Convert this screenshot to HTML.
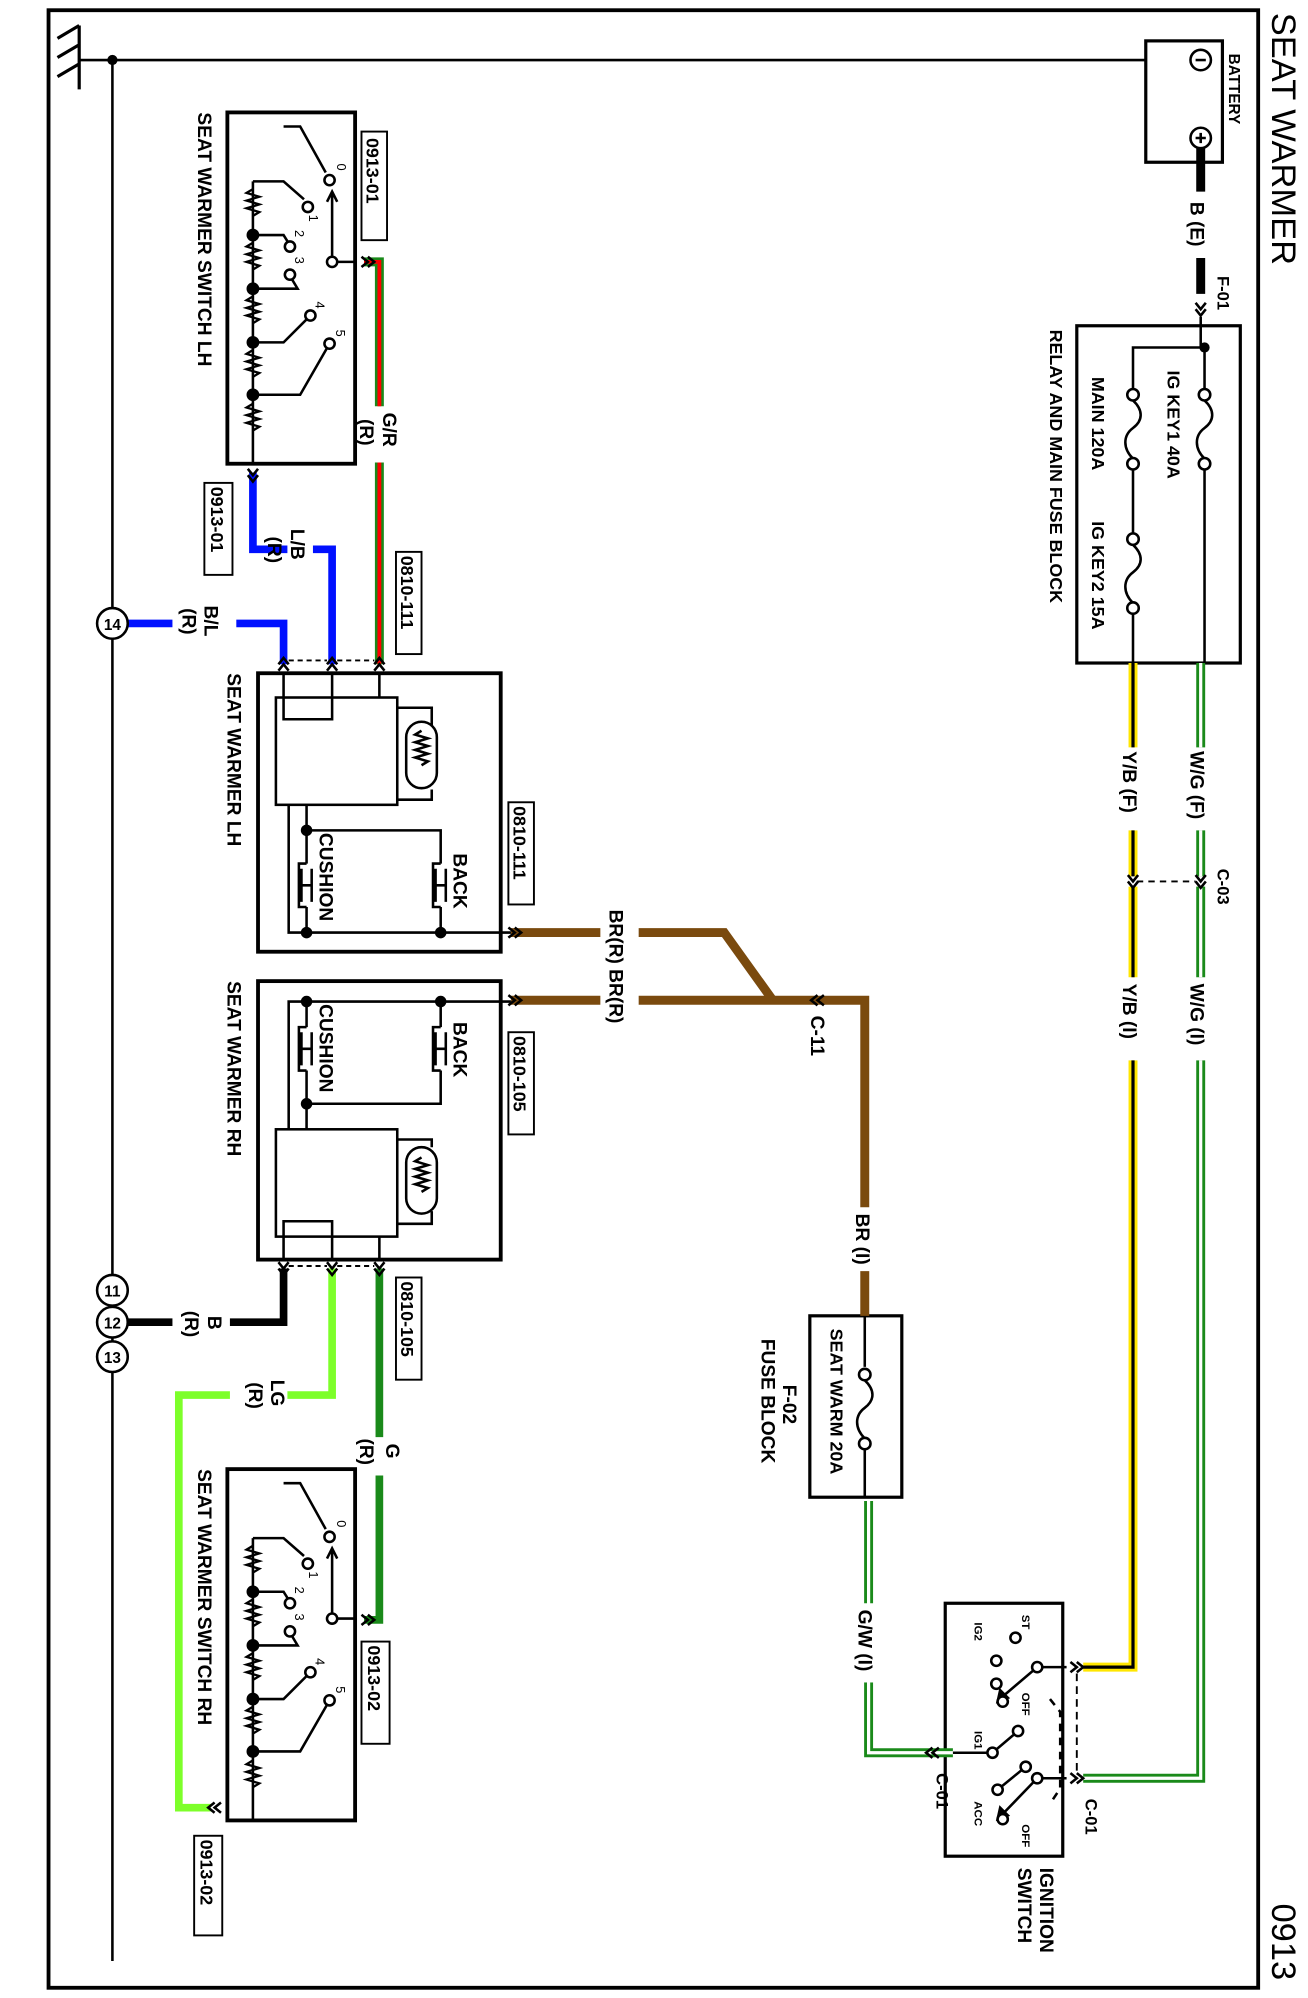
<!DOCTYPE html>
<html><head><meta charset="utf-8"><style>
html,body{margin:0;padding:0;background:#fff}
svg{display:block}
text{font-family:"Liberation Sans",sans-serif;font-weight:bold;fill:#000}
</style></head><body>
<svg width="1308" height="1998" viewBox="0 0 1024 1564" preserveAspectRatio="none" xmlns="http://www.w3.org/2000/svg">
<defs>
<g id="fuse"><circle cx="0" cy="0" r="4.5" fill="#fff" stroke="#000" stroke-width="2"/><path d="M0 4.5 C8 12 8 20 0 26 C-8 32 -8 42 0 50" fill="none" stroke="#000" stroke-width="2"/><circle cx="0" cy="54" r="4.5" fill="#fff" stroke="#000" stroke-width="2"/></g>
<g id="sw">
<g fill="none" stroke="#000" stroke-width="2">
<rect x="0" y="0" width="100" height="275" stroke-width="3"/>
<path d="M20 54 V275"/>
<path d="M44 11 H57 L77 47"/>
<path d="M20 54 H44 L60 68"/>
<path d="M82 117 V63 M78 70 L82 62 L86 70"/>
<path d="M82 117 H100"/>
<path d="M20 96 H44 L49 104"/>
<path d="M20 138 H55 L49 128"/>
<path d="M20 180 H44 L65 159"/>
<path d="M20 221 H57 L80 181"/>
<path d="M20 60 l-5 3 l10 3 l-10 3 l10 3 l-10 3 l10 3 l-5 3 M20 102 l-5 3 l10 3 l-10 3 l10 3 l-10 3 l10 3 l-5 3 M20 144 l-5 3 l10 3 l-10 3 l10 3 l-10 3 l10 3 l-5 3 M20 186 l-5 3 l10 3 l-10 3 l10 3 l-10 3 l10 3 l-5 3 M20 228 l-5 3 l10 3 l-10 3 l10 3 l-10 3 l10 3 l-5 3" stroke-width="1.8"/>
<circle cx="80" cy="53" r="4" fill="#fff"/><circle cx="63" cy="74" r="4" fill="#fff"/><circle cx="82" cy="117" r="4" fill="#fff"/>
<circle cx="49" cy="105" r="4" fill="#fff"/><circle cx="49" cy="127" r="4" fill="#fff"/><circle cx="65" cy="159" r="4" fill="#fff"/><circle cx="80" cy="181" r="4" fill="#fff"/>
<circle cx="20" cy="96" r="4" fill="#000"/><circle cx="20" cy="138" r="4" fill="#000"/><circle cx="20" cy="180" r="4" fill="#000"/><circle cx="20" cy="221" r="4" fill="#000"/>
</g>
<text transform="translate(86,40) rotate(90)" font-size="10" style="font-weight:normal">0</text>
<text transform="translate(64,80) rotate(90)" font-size="10" style="font-weight:normal">1</text>
<text transform="translate(53,92) rotate(90)" font-size="10" style="font-weight:normal">2</text>
<text transform="translate(53,113) rotate(90)" font-size="10" style="font-weight:normal">3</text>
<text transform="translate(69,148) rotate(90)" font-size="10" style="font-weight:normal">4</text>
<text transform="translate(85,170) rotate(90)" font-size="10" style="font-weight:normal">5</text>
</g>
<g id="chev" fill="none" stroke="#000" stroke-width="2"><path d="M-5 -4 L0 0 L-5 4 M0 -4 L5 0 L0 4"/></g>
<g id="chevv" fill="none" stroke="#000" stroke-width="2"><path d="M-4 -5 L0 0 L4 -5 M-4 0 L0 5 L4 0"/></g>
</defs>

<!-- frame -->
<rect x="38" y="8" width="947" height="1548" fill="none" stroke="#000" stroke-width="3"/>
<text transform="translate(996,10) rotate(90)" font-size="27" style="font-weight:normal">SEAT WARMER</text>
<text transform="translate(996,1490) rotate(90)" font-size="27" style="font-weight:normal">0913</text>

<!-- ground -->
<g stroke="#000" stroke-width="2.5" fill="none">
<path d="M62 20 V70 M45 30 L62 20 M45 45 L62 35 M45 60 L62 50"/>
</g>
<path d="M88 47 V1535 M62 47 H930" stroke="#000" stroke-width="2" fill="none"/>
<circle cx="88" cy="47" r="4" fill="#000"/>

<!-- battery -->
<rect x="897" y="32" width="60" height="95" fill="#fff" stroke="#000" stroke-width="2.5"/>
<circle cx="940" cy="47" r="8" fill="#fff" stroke="#000" stroke-width="2"/><path d="M936 47 H944" stroke="#000" stroke-width="2"/>
<circle cx="940" cy="108" r="8" fill="#fff" stroke="#000" stroke-width="2"/><path d="M936 108 H944 M940 104 V112" stroke="#000" stroke-width="2"/>
<text transform="translate(962,42) rotate(90)" font-size="12">BATTERY</text>
<path d="M940 116 V150 M940 202 V230" stroke="#000" stroke-width="7"/>
<text transform="translate(932,158) rotate(90)" font-size="15">B (E)</text>
<use href="#chevv" x="940" y="242"/>
<text transform="translate(953,216) rotate(90)" font-size="13">F-01</text>
<path d="M940 248 V272" stroke="#000" stroke-width="2"/>

<!-- relay block -->
<rect x="843" y="255" width="128" height="264" fill="none" stroke="#000" stroke-width="2.5"/>
<circle cx="943" cy="272" r="4" fill="#000"/>
<path d="M943 272 V305 M943 365 V519 M943 272 H887 V305 M887 365 V418 M887 478 V519" stroke="#000" stroke-width="2" fill="none"/>
<use href="#fuse" x="943" y="309"/>
<use href="#fuse" x="887" y="309"/>
<use href="#fuse" x="887" y="422"/>
<text transform="translate(914,290) rotate(90)" font-size="14">IG KEY1  40A</text>
<text transform="translate(855,295) rotate(90)" font-size="14">MAIN 120A</text>
<text transform="translate(855,408) rotate(90)" font-size="14">IG KEY2  15A</text>
<text transform="translate(822,258) rotate(90)" font-size="14">RELAY AND MAIN FUSE BLOCK</text>

<!-- W/G wire -->
<path d="M940 519 V585 M940 650 V686 M940 694 V765 M940 830 V1392 H848" stroke="#1a8a1a" stroke-width="7" fill="none"/>
<path d="M940 519 V585 M940 650 V686 M940 694 V765 M940 830 V1392 H848" stroke="#fff" stroke-width="2.5" fill="none"/>
<text transform="translate(932,588) rotate(90)" font-size="15">W/G (F)</text>
<text transform="translate(932,770) rotate(90)" font-size="15">W/G (I)</text>
<!-- Y/B wire -->
<path d="M887 519 V585 M887 650 V686 M887 694 V765 M887 830 V1305 H848" stroke="#ffe600" stroke-width="7" fill="none"/>
<path d="M887 519 V585 M887 650 V686 M887 694 V765 M887 830 V1305 H848" stroke="#000" stroke-width="2.5" fill="none"/>
<text transform="translate(879,588) rotate(90)" font-size="15">Y/B (F)</text>
<text transform="translate(879,770) rotate(90)" font-size="15">Y/B (I)</text>
<use href="#chevv" x="940" y="690"/><use href="#chevv" x="887" y="690"/>
<path d="M890 690 H936" stroke="#000" stroke-width="1.5" stroke-dasharray="5,4"/>
<text transform="translate(953,680) rotate(90)" font-size="13">C-03</text>

<!-- ignition switch -->
<rect x="740" y="1255" width="92" height="198" fill="none" stroke="#000" stroke-width="2.5"/>
<use href="#chev" x="843" y="1305"/><use href="#chev" x="843" y="1392"/>
<path d="M843 1310 V1388" stroke="#000" stroke-width="1.5" stroke-dasharray="6,4"/>
<text transform="translate(850,1408) rotate(90)" font-size="13">C-01</text>
<g stroke="#000" stroke-width="2" fill="none">
<path d="M835 1305 H812 L785 1328"/><path d="M781 1332 l2 -9 l6 6 z" fill="#000"/>
<path d="M835 1392 H812 L785 1420"/><path d="M781 1424 l2 -9 l6 6 z" fill="#000"/>
<path d="M740 1372 H777 L797 1355"/><path d="M781 1401 L803 1383"/>
<path d="M822 1330 L830 1340 V1400 L822 1412" stroke-dasharray="6,5"/>
<circle cx="795" cy="1282" r="4" fill="#fff"/><circle cx="780" cy="1300" r="4" fill="#fff"/><circle cx="780" cy="1318" r="4" fill="#fff"/>
<circle cx="812" cy="1305" r="4" fill="#fff"/><circle cx="785" cy="1332" r="4" fill="#fff"/>
<circle cx="797" cy="1355" r="4" fill="#fff"/><circle cx="777" cy="1372" r="4" fill="#fff"/>
<circle cx="803" cy="1383" r="4" fill="#fff"/><circle cx="781" cy="1401" r="4" fill="#fff"/>
<circle cx="812" cy="1392" r="4" fill="#fff"/><circle cx="785" cy="1424" r="4" fill="#fff"/>
</g>
<text transform="translate(800,1264) rotate(90)" font-size="9">ST</text>
<text transform="translate(763,1270) rotate(90)" font-size="9">IG2</text>
<text transform="translate(800,1325) rotate(90)" font-size="9">OFF</text>
<text transform="translate(763,1355) rotate(90)" font-size="9">IG1</text>
<text transform="translate(763,1410) rotate(90)" font-size="9">ACC</text>
<text transform="translate(800,1428) rotate(90)" font-size="9">OFF</text>
<text transform="translate(814,1462) rotate(90)" font-size="15">IGNITION</text>
<text transform="translate(797,1462) rotate(90)" font-size="15">SWITCH</text>

<!-- G/W wire -->
<path d="M746 1372 H680 V1175" stroke="#1a8a1a" stroke-width="7" fill="none"/>
<path d="M746 1372 H680 V1175" stroke="#fff" stroke-width="2.5" fill="none"/>
<rect x="670" y="1255" width="20" height="62" fill="#fff"/>
<text transform="translate(672,1260) rotate(90)" font-size="15">G/W (I)</text>
<use href="#chev" x="730" y="1372" transform="rotate(180 730 1372)"/>
<text transform="translate(733,1388) rotate(90)" font-size="13">C-01</text>

<!-- F-02 -->
<rect x="634" y="1030" width="72" height="142" fill="none" stroke="#000" stroke-width="2.5"/>
<path d="M677 1030 V1070 M677 1135 V1172" stroke="#000" stroke-width="2"/>
<use href="#fuse" x="677" y="1076"/>
<text transform="translate(650,1040) rotate(90)" font-size="14">SEAT WARM  20A</text>
<text transform="translate(613,1084) rotate(90)" font-size="15">F-02</text>
<text transform="translate(596,1048) rotate(90)" font-size="15">FUSE BLOCK</text>

<!-- brown wires -->
<g stroke="#7a4a0e" stroke-width="7" fill="none">
<path d="M677 1030 V995 M677 945 V783 H500"/>
<path d="M470 783 H400"/>
<path d="M605 783 L567 730 H500 M470 730 H400"/>
</g>
<text transform="translate(477,712) rotate(90)" font-size="15">BR(R) BR(R)</text>
<text transform="translate(670,950) rotate(90)" font-size="15">BR (I)</text>
<use href="#chev" x="640" y="783" transform="rotate(180 640 783)"/>
<text transform="translate(635,795) rotate(90)" font-size="15">C-11</text>
<use href="#chev" x="403" y="730"/><use href="#chev" x="403" y="783"/>

<!-- seat warmer LH -->
<rect x="202" y="527" width="190" height="218" fill="none" stroke="#000" stroke-width="3"/>
<g stroke="#000" stroke-width="2" fill="none">
<rect x="216" y="546" width="95" height="84"/>
<path d="M222 527 V563 H260 V527 M297 527 V546"/>
<path d="M311 554 H338 V568 M338 618 V626 H311"/>
<rect x="318" y="565" width="24" height="52" rx="12"/>
<path d="M330 572 l-5 3 l10 3 l-10 3 l10 3 l-10 3 l10 3 l-10 3 l10 3 l-5 3"/>
<path d="M240 630 V650 H345 V676 M345 710 V730 M240 650 V676 M240 710 V730 M226 630 V730 H400"/>
<path d="M240 676 h-6 v34 h6 M236 680 v26 M244 680 v26 M236 693 h8"/>
<path d="M345 676 h-6 v34 h6 M341 680 v26 M349 680 v26 M341 693 h8"/>
</g>
<circle cx="240" cy="650" r="4.5" fill="#000"/><circle cx="240" cy="730" r="4.5" fill="#000"/><circle cx="345" cy="730" r="4.5" fill="#000"/>
<text transform="translate(250,652) rotate(90)" font-size="15">CUSHION</text>
<text transform="translate(355,668) rotate(90)" font-size="15">BACK</text>
<text transform="translate(178,527) rotate(90)" font-size="15">SEAT WARMER LH</text>
<rect x="398" y="628" width="20" height="80" fill="#fff" stroke="#000" stroke-width="1.5"/>
<text transform="translate(402,631) rotate(90)" font-size="14">0810-111</text>

<!-- seat warmer RH -->
<rect x="202" y="768" width="190" height="218" fill="none" stroke="#000" stroke-width="3"/>
<g stroke="#000" stroke-width="2" fill="none">
<rect x="216" y="884" width="95" height="84"/>
<path d="M222 986 V956 H260 V986 M297 986 V968"/>
<path d="M311 892 H338 V898 M338 948 V958 H311"/>
<rect x="318" y="898" width="24" height="52" rx="12"/>
<path d="M330 906 l-5 3 l10 3 l-10 3 l10 3 l-10 3 l10 3 l-10 3 l10 3 l-5 3"/>
<path d="M240 884 V864 H345 V838 M345 804 V784 M240 864 V838 M240 804 V784 M226 884 V784 H400"/>
<path d="M240 804 h-6 v34 h6 M236 808 v26 M244 808 v26 M236 821 h8"/>
<path d="M345 804 h-6 v34 h6 M341 808 v26 M349 808 v26 M341 821 h8"/>
</g>
<circle cx="240" cy="864" r="4.5" fill="#000"/><circle cx="240" cy="784" r="4.5" fill="#000"/><circle cx="345" cy="784" r="4.5" fill="#000"/>
<text transform="translate(250,786) rotate(90)" font-size="15">CUSHION</text>
<text transform="translate(355,800) rotate(90)" font-size="15">BACK</text>
<text transform="translate(178,768) rotate(90)" font-size="15">SEAT WARMER RH</text>
<rect x="398" y="808" width="20" height="80" fill="#fff" stroke="#000" stroke-width="1.5"/>
<text transform="translate(402,811) rotate(90)" font-size="14">0810-105</text>

<!-- switches -->
<use href="#sw" x="178" y="88"/>
<use href="#sw" x="178" y="1150"/>
<text transform="translate(155,88) rotate(90)" font-size="15">SEAT WARMER SWITCH LH</text>
<text transform="translate(155,1150) rotate(90)" font-size="15">SEAT WARMER SWITCH RH</text>
<rect x="283" y="103" width="20" height="85" fill="#fff" stroke="#000" stroke-width="1.5"/>
<text transform="translate(287,108) rotate(90)" font-size="14">0913-01</text>
<rect x="160" y="378" width="22" height="72" fill="#fff" stroke="#000" stroke-width="1.5"/>
<text transform="translate(165,381) rotate(90)" font-size="14">0913-01</text>
<rect x="283" y="1285" width="22" height="80" fill="#fff" stroke="#000" stroke-width="1.5"/>
<text transform="translate(288,1288) rotate(90)" font-size="14">0913-02</text>
<rect x="152" y="1437" width="22" height="78" fill="#fff" stroke="#000" stroke-width="1.5"/>
<text transform="translate(157,1440) rotate(90)" font-size="14">0913-02</text>

<!-- LH wires -->
<path d="M297 520 V362 M297 318 V205 H285" stroke="#1a8a1a" stroke-width="7" fill="none"/>
<path d="M297 520 V362 M297 318 V205 H285" stroke="#f00" stroke-width="3" fill="none"/>
<text transform="translate(300,323) rotate(90)" font-size="15">G/R</text>
<text transform="translate(282,328) rotate(90)" font-size="15">(R)</text>
<path d="M198 370 V430 H225 M245 430 H260 V520" stroke="#0010ff" stroke-width="6" fill="none"/>
<text transform="translate(228,414) rotate(90)" font-size="15">L/B</text>
<text transform="translate(210,420) rotate(90)" font-size="15">(R)</text>
<path d="M96 488 H135 M185 488 H222 V520" stroke="#0010ff" stroke-width="6" fill="none"/>
<text transform="translate(160,474) rotate(90)" font-size="15">B/L</text>
<text transform="translate(143,476) rotate(90)" font-size="15">(R)</text>
<rect x="310" y="432" width="20" height="80" fill="#fff" stroke="#000" stroke-width="1.5"/>
<text transform="translate(314,435) rotate(90)" font-size="14">0810-111</text>
<use href="#chevv" x="222" y="520" transform="rotate(180 222 520)"/><use href="#chevv" x="260" y="520" transform="rotate(180 260 520)"/><use href="#chevv" x="297" y="520" transform="rotate(180 297 520)"/>
<path d="M226 517 H256 M264 517 H293" stroke="#000" stroke-width="1.5" stroke-dasharray="4,3"/>
<use href="#chev" x="288" y="205"/><use href="#chevv" x="198" y="372"/>
<circle cx="88" cy="488" r="12" fill="#fff" stroke="#000" stroke-width="2"/><text x="88" y="493" font-size="12" text-anchor="middle">14</text>

<!-- RH wires -->
<path d="M222 993 V1035 H180 M135 1035 H96" stroke="#000" stroke-width="6" fill="none"/>
<text transform="translate(163,1030) rotate(90)" font-size="15">B</text>
<text transform="translate(145,1026) rotate(90)" font-size="15">(R)</text>
<path d="M260 993 V1092 H225 M180 1092 H140 V1415 H165" stroke="#7dff2a" stroke-width="6" fill="none"/>
<text transform="translate(212,1080) rotate(90)" font-size="15">LG</text>
<text transform="translate(195,1082) rotate(90)" font-size="15">(R)</text>
<path d="M297 993 V1125 M297 1155 V1268 H285" stroke="#1a8a1a" stroke-width="6" fill="none"/>
<text transform="translate(302,1130) rotate(90)" font-size="15">G</text>
<text transform="translate(282,1126) rotate(90)" font-size="15">(R)</text>
<rect x="310" y="1000" width="20" height="80" fill="#fff" stroke="#000" stroke-width="1.5"/>
<text transform="translate(314,1003) rotate(90)" font-size="14">0810-105</text>
<use href="#chevv" x="222" y="993"/><use href="#chevv" x="260" y="993"/><use href="#chevv" x="297" y="993"/>
<path d="M226 991 H256 M264 991 H293" stroke="#000" stroke-width="1.5" stroke-dasharray="4,3"/>
<use href="#chev" x="288" y="1268"/><use href="#chev" x="168" y="1415" transform="rotate(180 168 1415)"/>
<circle cx="88" cy="1010" r="12" fill="#fff" stroke="#000" stroke-width="2"/><text x="88" y="1015" font-size="12" text-anchor="middle">11</text>
<circle cx="88" cy="1035" r="12" fill="#fff" stroke="#000" stroke-width="2"/><text x="88" y="1040" font-size="12" text-anchor="middle">12</text>
<circle cx="88" cy="1062" r="12" fill="#fff" stroke="#000" stroke-width="2"/><text x="88" y="1067" font-size="12" text-anchor="middle">13</text>
</svg>
</body></html>
